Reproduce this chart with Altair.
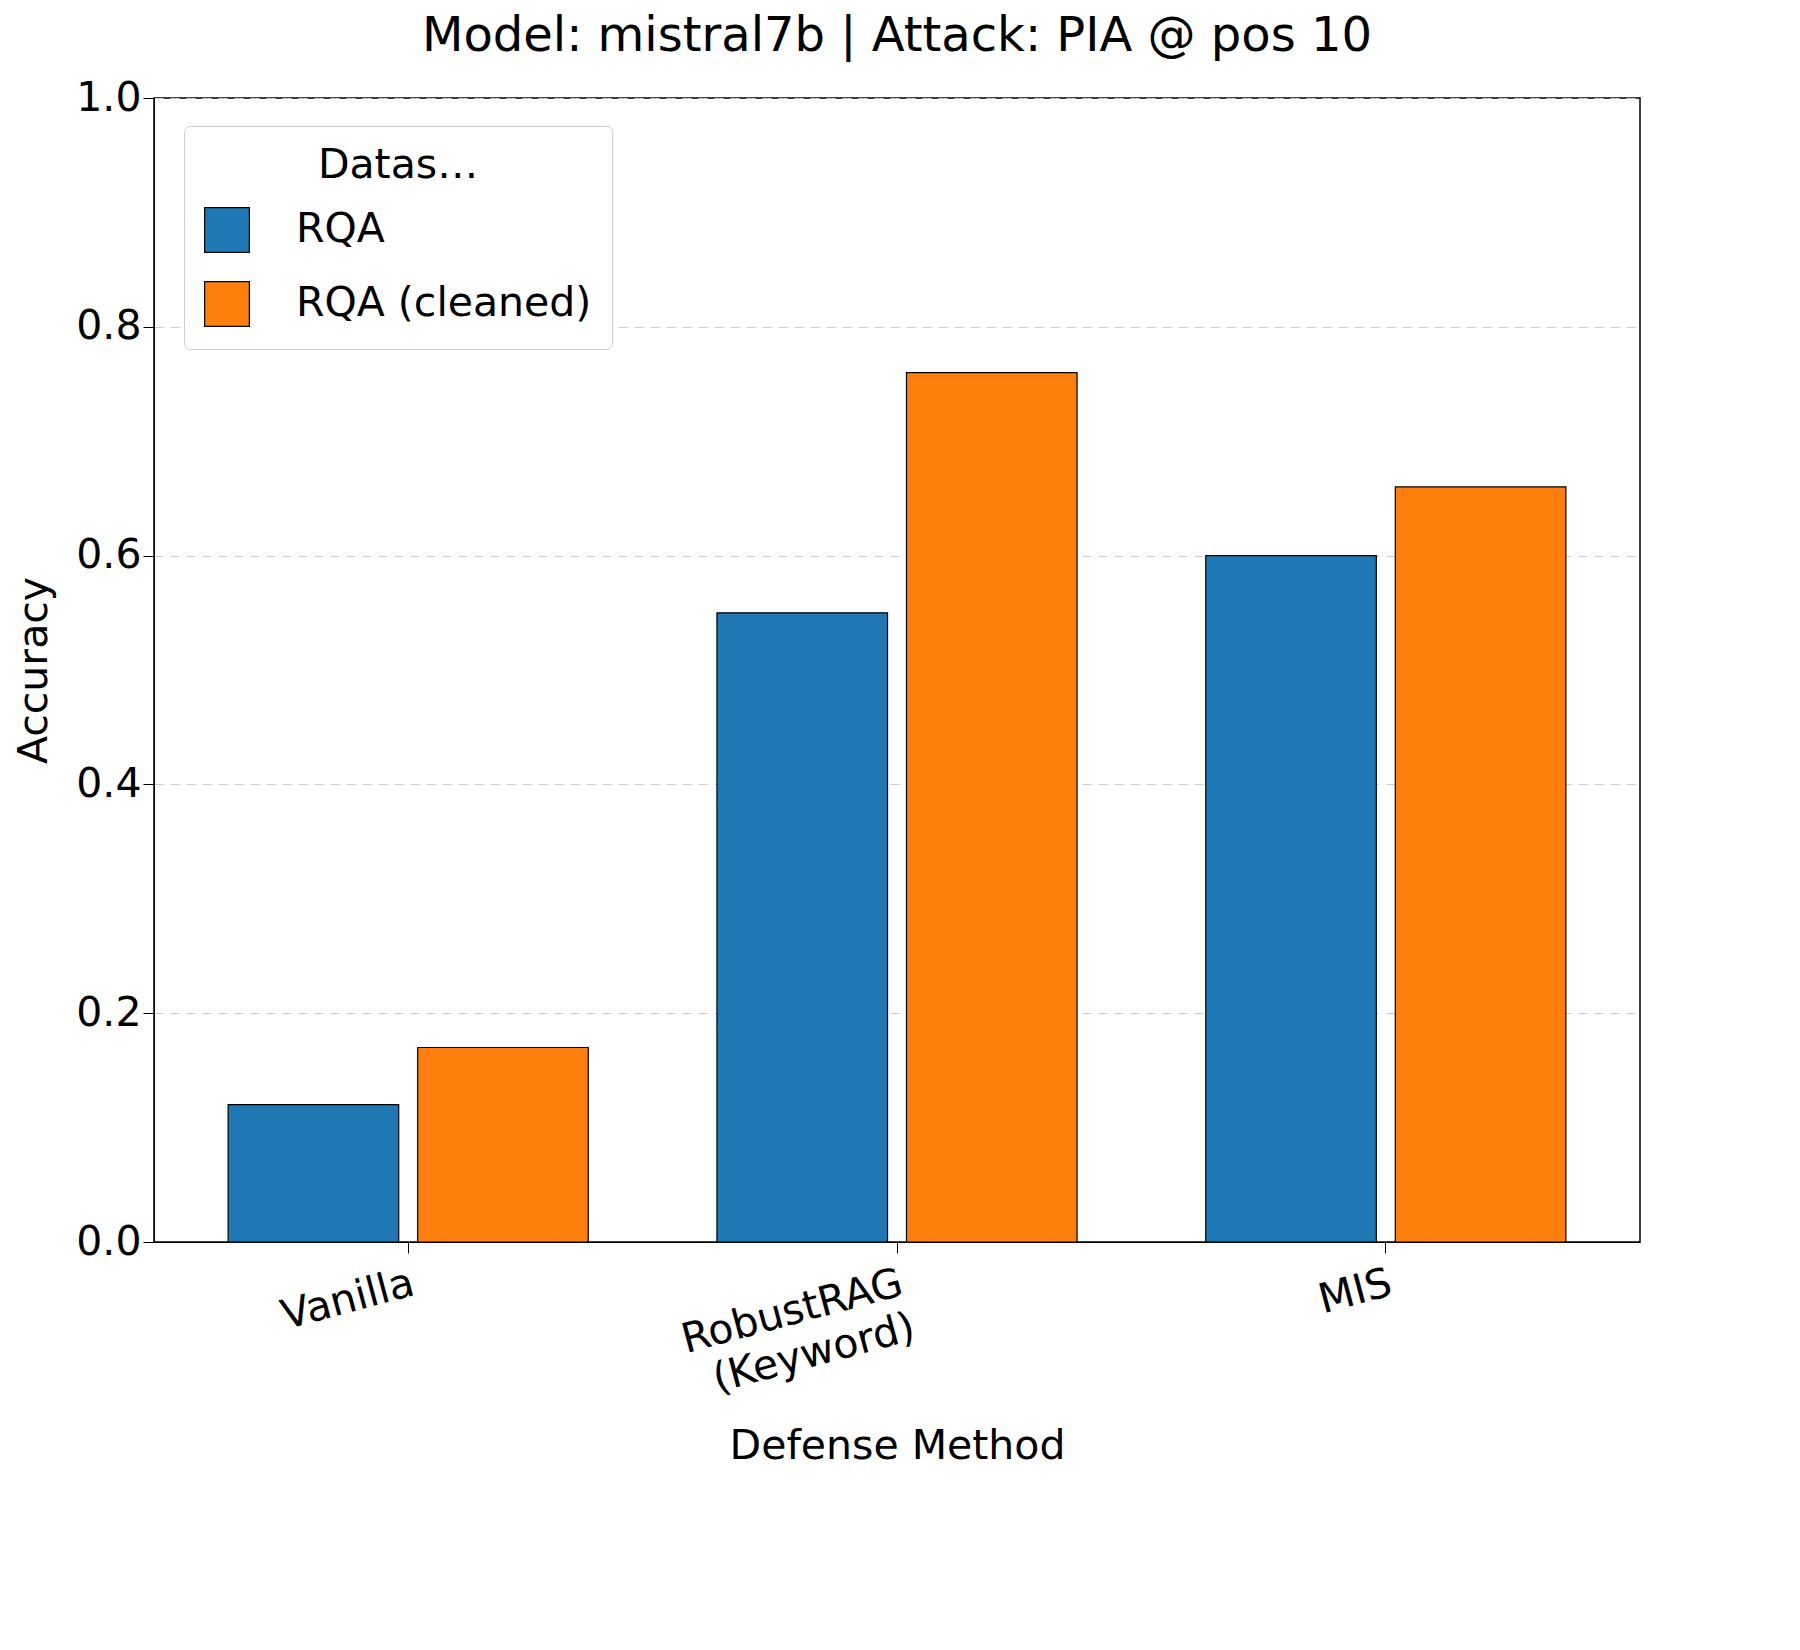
import altair as alt
import pandas as pd

methods = ["Vanilla", "RobustRAG|(Keyword)", "MIS"]
datasets = ["RQA", "RQA (cleaned)"]
rqa = [0.12, 0.55, 0.60]
rqa_clean = [0.17, 0.76, 0.66]

rows = []
for m, a, b in zip(methods, rqa, rqa_clean):
    rows.append({"method": m, "dataset": datasets[0], "acc": a})
    rows.append({"method": m, "dataset": datasets[1], "acc": b})
df = pd.DataFrame(rows)

font = "DejaVu Sans"
fs = 41

chart = alt.Chart(df).mark_bar(stroke="black", strokeWidth=1.2).encode(
    x=alt.X("method:N", sort=methods, title="Defense Method",
            scale=alt.Scale(paddingInner=0.24, paddingOuter=0.14),
            axis=alt.Axis(labelAngle=345, labelExpr="split(datum.label, '|')",
                          labelFontSize=fs, titleFontSize=fs, titlePadding=22,
                          titleFontWeight="normal", labelLimit=1000,
                          tickSize=11, tickColor="black", domainColor="black",
                          labelColor="black", titleColor="black", labelPadding=10,
                          labelLineHeight=46)),
    xOffset=alt.XOffset("dataset:N", sort=datasets,
                        scale=alt.Scale(paddingInner=0.1, paddingOuter=0.03)),
    y=alt.Y("acc:Q", title="Accuracy",
            scale=alt.Scale(domain=[0, 1]),
            axis=alt.Axis(values=[0, 0.2, 0.4, 0.6, 0.8, 1.0], format=".1f",
                          labelFontSize=fs, titleFontSize=fs, titlePadding=20,
                          titleFontWeight="normal",
                          tickSize=11, tickColor="black", domainColor="black",
                          labelColor="black", titleColor="black",
                          grid=True, gridDash=[9, 7], gridColor="#cccccc")),
    color=alt.Color("dataset:N", sort=datasets,
                    scale=alt.Scale(domain=datasets, range=["#1f77b4", "#ff7f0e"]),
                    legend=alt.Legend(title="Datasets", orient="none", legendX=30, legendY=28,
                                      titleFontSize=fs, labelFontSize=fs, titleFontWeight="normal",
                                      titleAnchor="middle", titleColor="black", labelColor="black",
                                      labelLimit=1000,
                                      symbolType="square", symbolSize=2000, symbolStrokeColor="black",
                                      symbolStrokeWidth=1.2, rowPadding=24, titlePadding=20,
                                      padding=20, strokeColor="#cccccc", fillColor="white",
                                      cornerRadius=6, labelOffset=46)),
).properties(
    width=1486, height=1144,
    title=alt.TitleParams("Model: mistral7b | Attack: PIA @ pos 10", fontSize=48,
                          fontWeight="normal", color="black", offset=16),
).configure(font=font).configure_view(stroke="black", strokeWidth=1.5)

chart.save("out.html", embed_options={"renderer": "svg", "actions": False})
